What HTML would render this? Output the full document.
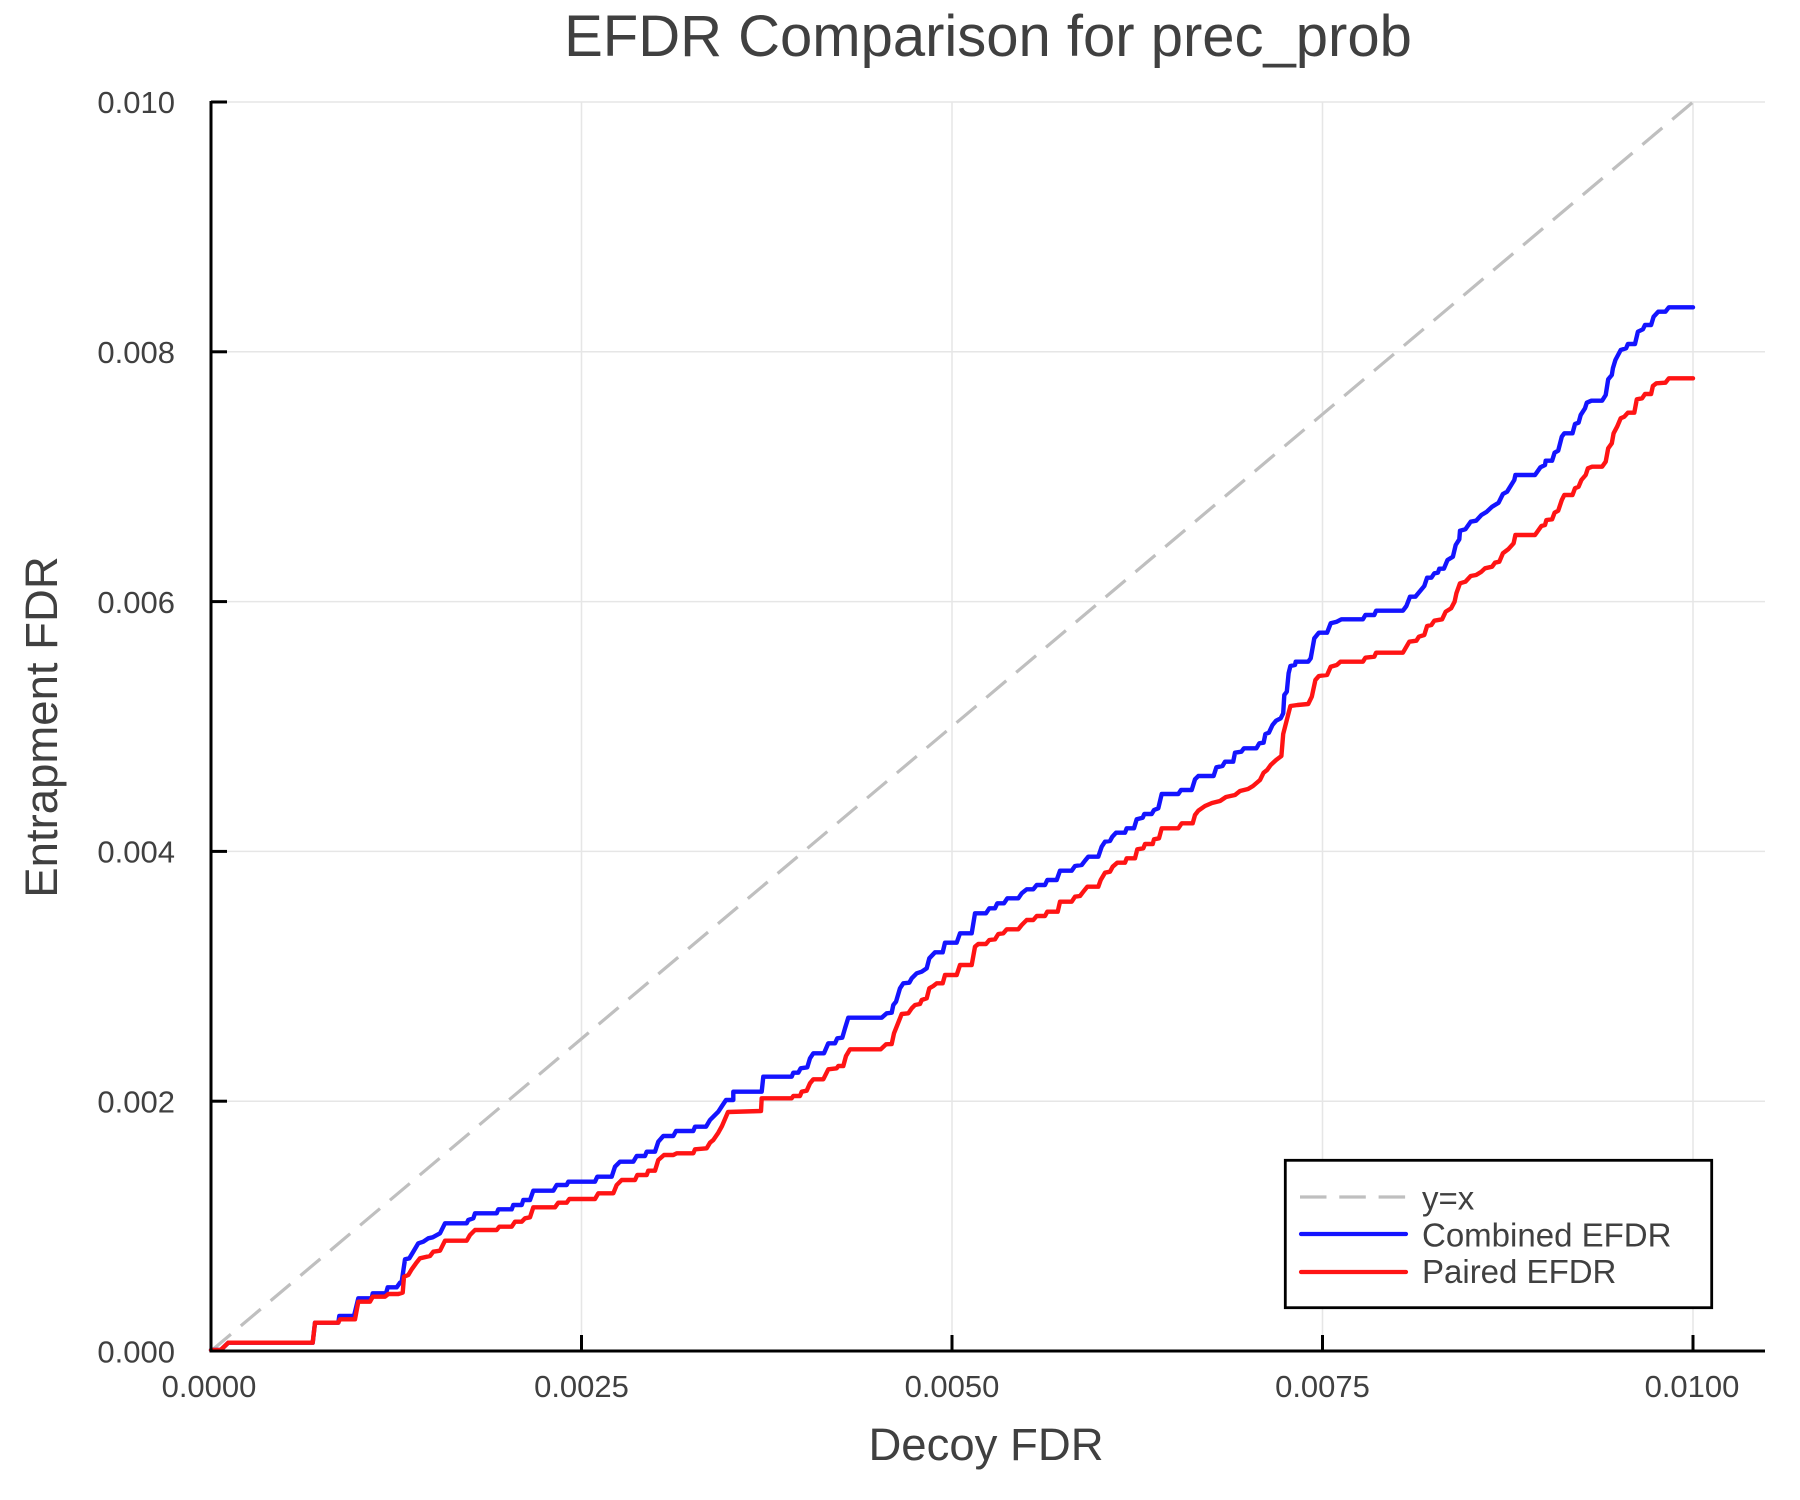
<!DOCTYPE html>
<html>
<head>
<meta charset="utf-8">
<style>
html,body{margin:0;padding:0;background:#fff;}
svg{display:block;}
text{font-family:"Liberation Sans", Arial, sans-serif; fill:#404040;}
</style>
</head>
<body>
<svg width="1800" height="1500" viewBox="0 0 1800 1500" xmlns="http://www.w3.org/2000/svg">
<rect x="0" y="0" width="1800" height="1500" fill="#ffffff"/>

<!-- grid -->
<g stroke="#e6e6e6" stroke-width="1.5">
  <line x1="211" y1="102" x2="211" y2="1351"/>
  <line x1="581.5" y1="102" x2="581.5" y2="1351"/>
  <line x1="952" y1="102" x2="952" y2="1351"/>
  <line x1="1322.5" y1="102" x2="1322.5" y2="1351"/>
  <line x1="1693" y1="102" x2="1693" y2="1351"/>
  <line x1="211" y1="102" x2="1765" y2="102"/>
  <line x1="211" y1="351.8" x2="1765" y2="351.8"/>
  <line x1="211" y1="601.6" x2="1765" y2="601.6"/>
  <line x1="211" y1="851.4" x2="1765" y2="851.4"/>
  <line x1="211" y1="1101.2" x2="1765" y2="1101.2"/>
</g>

<!-- y=x dashed -->
<line x1="211" y1="1351" x2="1693" y2="102" stroke="#bfbfbf" stroke-width="3.2" stroke-dasharray="26 13"/>

<!-- Combined EFDR (blue) -->
<polyline fill="none" stroke="#1414ff" stroke-width="4.4" stroke-linejoin="round" stroke-linecap="round" points="
211,1350 220.7,1350 228.3,1342.7 312.7,1342.7 315,1322.7 338.3,1322.7 339.3,1316 354,1316 358.3,1298.3 371.7,1298.3 372.7,1293.3 386,1293.3 387.7,1287.3 396.7,1287.3 400,1282.7 401.7,1281.7 405,1259.3 409.3,1258.3 413.3,1251.7 418.3,1243.3 423.3,1241.7 428.3,1238.3 432.7,1237.3 440,1233.3 445,1223.3 466.7,1223.3 468.3,1220 473.3,1218.3 475,1213.3 496.7,1213.3 498.3,1209.3 511.7,1209.3 513.3,1205 521.7,1205 523.3,1200 530,1200 533.3,1190.7 553.3,1190.7 556.7,1185 566.7,1185 568.3,1181.7 595,1181.7 597.3,1176.7 611.7,1176.7 615,1166.7 620,1161.7 633.3,1161.7 636.7,1156 645,1156 646.7,1151.7 655,1151.7 658.3,1141.7 663.3,1136 673.3,1136 676,1131 693.3,1131 695,1126.7 706,1126.7 710,1120 713.3,1116.7 718.3,1111.7 722,1106 726,1100 733.3,1100 733.3,1091.7 761.7,1091.7 763.3,1076.7 791.7,1076.7 793.3,1072.7 798.3,1072.7 800.7,1068.3 807.3,1067.3 810,1058.3 813.3,1053.3 824,1053.3 828.3,1043.3 835,1043.3 837.3,1038.3 842.3,1037.7 845,1028.3 848.3,1017.7 881.7,1017.7 886.7,1013.3 891.7,1012.7 893.3,1005 896,1001.7 900,988.3 903.3,983.3 909.3,982.7 911.7,978.3 916.7,973.3 921.7,971.7 926.7,968.3 929.3,958.3 935,952.3 942.7,952.3 945,942.7 956.7,942.7 960,933.3 971.7,933.3 975,913.3 986,913.3 989.3,908.3 995,908.3 997.3,903.3 1004,903.3 1007.3,898.3 1018.3,898.3 1021.7,893.3 1026.7,889.3 1033.3,889.3 1036.7,885 1045,885 1047.3,880 1056.7,880 1060,870.7 1071.7,870.7 1075,866 1081.7,865 1085,860.7 1088.3,856.7 1098.3,856.7 1101.7,846.7 1105,841.7 1110,841 1112.3,836.7 1116,832.7 1125,832.7 1126.7,828.3 1134,828.3 1136.7,819.3 1142.7,817.7 1144.3,814 1151.7,814 1154,810 1158.3,808.3 1161.7,794 1178.3,794 1181,790 1191.7,790 1195,779.3 1198.3,776 1213.6,776 1216.4,767.3 1222.5,766 1225,761.7 1233.2,761.7 1235,752.7 1241.4,751.7 1243.9,748.3 1256.4,748.3 1259.3,743.3 1263.6,742.7 1265.4,734 1268.9,732.7 1272.5,725 1276.1,720.7 1280.7,718.3 1283.2,713.3 1284.3,695 1286.8,691.7 1288.6,673.3 1290.4,666 1295,665 1295.7,661.7 1308.2,661.7 1310.7,658.3 1314.3,638.3 1318.9,632.7 1327.1,632.7 1330.7,623.3 1336.8,621.7 1341.4,619.3 1362.9,619.3 1365.4,615 1374.3,615 1376.1,610.7 1402.9,610.7 1406.4,606 1410,596.7 1415.4,596.7 1424.3,586 1427.1,577.7 1431.4,577.7 1434.3,573.3 1437.9,572.7 1439.3,568.7 1443.9,568.7 1447.5,560 1452.9,556.7 1455.7,545 1459.3,539.3 1460,530.7 1465.4,529.3 1470.7,521.7 1476.1,520.7 1481.4,515 1486.8,511.7 1492.1,506.7 1498.6,502.7 1502.9,494 1507.1,491.7 1514.3,480 1515.4,475 1535,475 1540.4,467.3 1545,465 1545.7,460.7 1552.1,460.7 1554.6,452.7 1558.2,450.7 1561.8,436.7 1564.3,433.3 1572.5,433.3 1575,424 1578.6,422.7 1580.7,415 1585,408.3 1586.8,402.7 1591.4,400.7 1602.1,400.7 1605.7,395 1608.2,379.3 1611.8,375 1612.9,368.3 1615.4,360 1620.7,350 1626.1,348.3 1627.9,344 1635,344 1637.9,331.7 1642.9,329.3 1645,325 1651.1,325 1653.6,316.7 1658.2,311.7 1665.4,311.7 1668.9,307.3 1693,307.3"/>

<!-- Paired EFDR (red) -->
<polyline fill="none" stroke="#ff1414" stroke-width="4.4" stroke-linejoin="round" stroke-linecap="round" points="
211,1350 220.7,1350 228.3,1342.7 312.7,1342.7 315,1322.7 338.3,1322.7 340,1319.3 355,1319.3 358.3,1301.7 370,1301.7 372.7,1296.7 385,1296.7 388.3,1294 398.3,1294 402.7,1292.7 404,1276.7 408.3,1275 411.7,1269.3 416,1263.3 420,1258.3 430,1256 433.3,1251.7 440,1250.7 445,1240.7 466.7,1240.7 470,1235 475,1230 496.7,1230 499.3,1226.7 511.7,1226.7 515,1221.7 521.7,1221.7 525,1218.3 530,1217.3 533.3,1207.3 555,1207.3 558.3,1202.7 566.7,1202.7 569.3,1199 595,1199 598.3,1193.3 613.3,1193.3 616.7,1185 621.7,1180 635,1180 637.3,1175 646.7,1175 648.3,1170.7 655,1170.7 658.3,1160 664,1155 673.3,1155 676.7,1153.3 693.3,1153.3 695,1149.3 706.7,1148.3 710,1142.7 713.3,1140 718.3,1132.7 722,1126 728,1112 761,1111 761.7,1098.3 791.7,1098.3 793.3,1096 800,1096 801.7,1091.7 806.7,1090.7 810,1083.3 813.3,1079.3 823.3,1079.3 828.3,1069.3 836.7,1068.3 838.3,1066 843.3,1066 846,1056 850,1049.3 880.7,1049.3 886,1044.3 891.7,1044 894,1033.3 899.3,1020 901.7,1014 908.3,1013.3 911.7,1008.3 915,1005 920,1004 921.7,1000 926.7,998.3 929.3,988.3 933.3,986 936.7,983.3 942.7,983.3 945,975 956.7,975 960,965 971.7,965 975,946.7 978.3,944 986,944 989.3,940 995,939.3 998.3,934 1003.3,933.3 1006.7,929.3 1018.3,929.3 1021.7,925 1026.7,920 1033.3,920 1036.7,916 1045,916 1047.3,911.7 1057.7,911.7 1060,901.7 1071.7,901.7 1075,896.7 1080,896 1083.3,891.7 1087.3,886.7 1098.3,886.7 1100.7,880 1105,872.7 1110,871.7 1112.7,866.7 1117.3,862.7 1125,862.7 1126.7,858.3 1135,858.3 1137.3,849.3 1143.3,848.3 1145,844 1152.7,844 1154,839.3 1159,838.3 1161.7,828.3 1178.3,828.3 1181.7,823.3 1192.7,823.3 1195,815 1198.3,810.7 1205,806 1212,803 1220,801 1226,797 1235,795 1240,791 1248,789 1253,786 1260,780 1263.6,772.7 1267.1,770 1270.7,765 1276.1,760 1281.4,756 1283.2,734 1286.8,720 1290.4,706 1297.5,705 1308.2,704 1311.8,696.7 1315.4,680 1318.9,676 1327.1,675 1330.7,666.7 1336.8,665 1340.4,661.7 1362.9,661.7 1365.4,657.7 1374.3,656.7 1376.1,652.7 1402.9,652.7 1406.4,646.7 1409.3,641.7 1416.4,640.7 1418.9,636.7 1424.3,635 1427.1,626 1431.4,625 1434.3,620.7 1442.1,619.3 1445.7,611.7 1451.1,608.3 1454.6,601.7 1456.4,593.3 1460,583.3 1465.4,581.7 1470.7,576 1476.1,575 1481.4,571.7 1485,568.3 1492.1,566.7 1495,562.7 1499.3,561.7 1502.9,553.3 1508.2,549.3 1513.6,543.3 1515.4,535 1535,535 1541.4,526 1545,525 1546.4,520 1552.1,519.3 1554.6,512.7 1558.2,510.7 1561.8,500 1564.3,495 1572.5,495 1575,488.3 1578.6,486.7 1581.4,480 1585.7,475 1587.9,468.3 1592.1,466.7 1602.1,466.7 1605.7,461.7 1608.2,448.3 1611.8,443.3 1613.6,433.3 1617.1,426.7 1620.7,418.3 1624.3,416.7 1627.9,412.7 1634.3,412.7 1636.8,399.3 1642.1,398.3 1645,394 1651.1,394 1652.9,386 1656.4,383.3 1665.4,382.7 1668.9,378.3 1693,378.3"/>

<!-- axes -->
<g stroke="#000" stroke-width="3" fill="none">
  <line x1="211" y1="101" x2="211" y2="1352.5"/>
  <line x1="209.5" y1="1351" x2="1765" y2="1351"/>
  <!-- y ticks -->
  <line x1="211" y1="102" x2="227" y2="102"/>
  <line x1="211" y1="351.8" x2="227" y2="351.8"/>
  <line x1="211" y1="601.6" x2="227" y2="601.6"/>
  <line x1="211" y1="851.4" x2="227" y2="851.4"/>
  <line x1="211" y1="1101.2" x2="227" y2="1101.2"/>
  <!-- x ticks -->
  <line x1="581.5" y1="1351" x2="581.5" y2="1335"/>
  <line x1="952" y1="1351" x2="952" y2="1335"/>
  <line x1="1322.5" y1="1351" x2="1322.5" y2="1335"/>
  <line x1="1693" y1="1351" x2="1693" y2="1335"/>
</g>

<!-- y tick labels -->
<g font-size="31" text-anchor="end">
  <text x="175" y="113">0.010</text>
  <text x="175" y="363">0.008</text>
  <text x="175" y="613">0.006</text>
  <text x="175" y="862.5">0.004</text>
  <text x="175" y="1112.5">0.002</text>
  <text x="175" y="1362.5">0.000</text>
</g>

<!-- x tick labels -->
<g font-size="31" text-anchor="middle">
  <text x="209" y="1397">0.0000</text>
  <text x="581.5" y="1397">0.0025</text>
  <text x="952" y="1397">0.0050</text>
  <text x="1322.5" y="1397">0.0075</text>
  <text x="1692" y="1397">0.0100</text>
</g>

<!-- title & axis labels -->
<text x="988" y="56" font-size="58" text-anchor="middle">EFDR Comparison for prec_prob</text>
<text x="986" y="1460" font-size="45.5" text-anchor="middle">Decoy FDR</text>
<text transform="translate(57,727) rotate(-90)" font-size="45.5" text-anchor="middle">Entrapment FDR</text>

<!-- legend -->
<rect x="1285.3" y="1160.3" width="426.4" height="147.4" fill="#ffffff" stroke="#000" stroke-width="2.8"/>
<line x1="1300" y1="1197" x2="1407" y2="1197" stroke="#bfbfbf" stroke-width="3.2" stroke-dasharray="26.5 12.8"/>
<line x1="1301" y1="1234" x2="1406" y2="1234" stroke="#1414ff" stroke-width="4.2" stroke-linecap="round"/>
<line x1="1301" y1="1272" x2="1406" y2="1272" stroke="#ff1414" stroke-width="4.2" stroke-linecap="round"/>
<g font-size="33">
  <text x="1422" y="1209.5">y=x</text>
  <text x="1422" y="1246.5">Combined EFDR</text>
  <text x="1422" y="1283">Paired EFDR</text>
</g>
</svg>
</body>
</html>
